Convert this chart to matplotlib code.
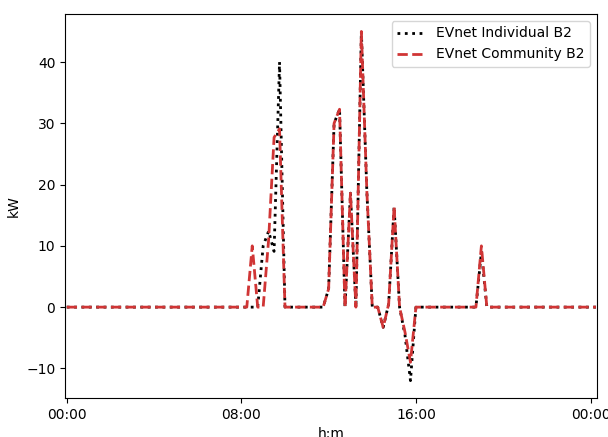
import numpy as np
import pandas as pd
import matplotlib
matplotlib.use("Agg")
import matplotlib.pyplot as plt
import matplotlib.dates as mdates

# 15-minute timestamps
times = pd.date_range("2021-01-01 00:00", periods=98, freq="15min")

individual_b2 = [
    0, 0, 0, 0, 0, 0, 0, 0, 0, 0,
    0, 0, 0, 0, 0, 0, 0, 0, 0, 0,
    0, 0, 0, 0, 0, 0, 0, 0, 0, 0,
    0, 0, 0, 0, 0, 0, 10, 12.4, 9.1, 40,
    0, 0, 0, 0, 0, 0, 0, 0, 3, 30,
    32.3, 0, 18.6, 0, 45, 19, 0, 0, -3.3, 0.5,
    16.4, 0, -4.6, -12, 0, 0, 0, 0, 0, 0,
    0, 0, 0, 0, 0, 0, 9, 0, 0, 0,
    0, 0, 0, 0, 0, 0, 0, 0, 0, 0,
    0, 0, 0, 0, 0, 0, 0, 0,
]

community_b2 = [
    0, 0, 0, 0, 0, 0, 0, 0, 0, 0,
    0, 0, 0, 0, 0, 0, 0, 0, 0, 0,
    0, 0, 0, 0, 0, 0, 0, 0, 0, 0,
    0, 0, 0, 0, 10, 0, 0, 11, 27.7, 29.1,
    0, 0, 0, 0, 0, 0, 0, 0, 3, 30,
    32.3, 0, 18.6, 0, 45, 19, 0, 0, -3.3, 0.5,
    16.4, 0, -4.1, -9, 0, 0, 0, 0, 0, 0,
    0, 0, 0, 0, 0, 0, 10, 0, 0, 0,
    0, 0, 0, 0, 0, 0, 0, 0, 0, 0,
    0, 0, 0, 0, 0, 0, 0, 0,
]

fig = plt.figure(figsize=(6.08, 4.37), dpi=100)
ax = fig.add_axes([0.107, 0.089, 0.875, 0.879])

ax.plot(times, individual_b2, linestyle=":", color="black", linewidth=2,
        label="EVnet Individual B2")
ax.plot(times, community_b2, linestyle="--", color="#d03535", linewidth=2,
        label="EVnet Community B2")

ax.set_xlim(pd.Timestamp("2020-12-31 23:55:20"), pd.Timestamp("2021-01-02 00:18:00"))
ax.set_ylim(-14.85, 47.85)
ax.xaxis.set_major_locator(mdates.HourLocator(byhour=[0, 8, 16]))
ax.xaxis.set_major_formatter(mdates.DateFormatter("%H:%M"))
ax.set_yticks([-10, 0, 10, 20, 30, 40])
ax.set_xlabel("h:m")
ax.set_ylabel("kW")
ax.legend(loc="upper right")

fig.savefig("out.png", dpi=100)
